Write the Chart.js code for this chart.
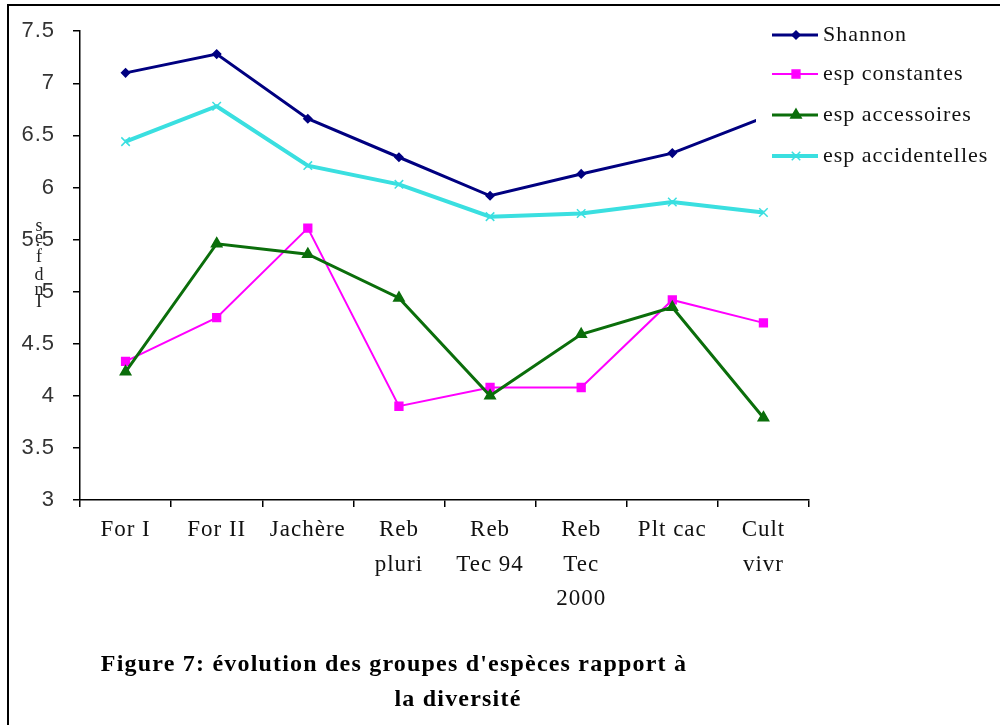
<!DOCTYPE html>
<html>
<head>
<meta charset="utf-8">
<script src="https://cdn.jsdelivr.net/npm/chart.js@4/dist/chart.umd.min.js"></script>
<style>
  html, body { margin: 0; padding: 0; background: #fff; }
  #wrap { width: 1000px; height: 725px; }
</style>
</head>
<body>
<div id="wrap"><canvas id="c" width="1000" height="725"></canvas></div>
<script>
// Sites along the x axis (multi-line labels as arrays)
const categories = [
  'For I', 'For II', 'Jachère', ['Reb', 'pluri'], ['Reb', 'Tec 94'],
  ['Reb', 'Tec', '2000'], 'Plt cac', ['Cult', 'vivr']
];

// Series values
const shannon          = [7.10, 7.28, 6.66, 6.29, 5.92, 6.13, 6.33, 6.67];
const espConstantes    = [4.33, 4.75, 5.61, 3.90, 4.08, 4.08, 4.92, 4.70];
const espAccessoires   = [4.23, 5.46, 5.36, 4.94, 4.00, 4.59, 4.85, 3.79];
const espAccidentelles = [6.44, 6.78, 6.21, 6.03, 5.72, 5.75, 5.86, 5.76];

const seriesNames = ['Shannon', 'esp constantes', 'esp accessoires', 'esp accidentelles'];

// Y axis range
const yMin = 3, yMax = 7.5, yStep = 0.5;

// Stray vertical axis-title glyphs next to the y axis
const yTitleChars = ['s', 'e', 'f', 'd', 'n', 'I'];

// Caption under the chart
const titleLines = ["Figure 7: évolution des groupes d'espèces rapport à", 'la diversité'];

const SERIF = '"Liberation Serif", "Times New Roman", serif';
const SANS = '"Liberation Sans", Arial, sans-serif';
const SPACING = '1px';

const spacing = {
  id: 'spacing',
  beforeLayout(chart) { chart.ctx.letterSpacing = SPACING; },
  beforeDraw(chart) {
    const ctx = chart.ctx;
    ctx.letterSpacing = SPACING;
    // frame
    ctx.save();
    ctx.strokeStyle = '#000';
    ctx.lineWidth = 2;
    ctx.beginPath();
    ctx.moveTo(8, 725);
    ctx.lineTo(8, 5);
    ctx.lineTo(1000, 5);
    ctx.stroke();
    ctx.restore();
  }
};

const extras = {
  id: 'extras',
  afterDraw(chart) {
    const ctx = chart.ctx;
    const ds = chart.data.datasets;

    // legend box over the top-right corner of the plot
    ctx.save();
    ctx.fillStyle = '#fff';
    ctx.fillRect(756, 14, 244, 158);
    const rowY = [35, 74, 115, 156];
    ds.forEach((d, i) => {
      const y = rowY[i];
      ctx.save();
      ctx.strokeStyle = d.borderColor;
      ctx.lineWidth = d.borderWidth;
      ctx.beginPath();
      ctx.moveTo(772, y);
      ctx.lineTo(818, y);
      ctx.stroke();
      ctx.fillStyle = d.pointBackgroundColor;
      ctx.strokeStyle = d.pointBorderColor;
      ctx.lineWidth = d.pointBorderWidth;
      Chart.helpers.drawPoint(ctx, {
        pointStyle: d.pointStyle,
        radius: d.pointRadius,
        borderWidth: d.pointBorderWidth,
        rotation: 0
      }, 796, y);
      ctx.letterSpacing = SPACING;
      ctx.fillStyle = '#111';
      ctx.font = '22px ' + SERIF;
      ctx.textAlign = 'left';
      ctx.textBaseline = 'middle';
      ctx.fillText(seriesNames[i], 823, y);
      ctx.restore();
    });
    ctx.restore();

    // stacked glyphs beside the y axis
    ctx.save();
    ctx.letterSpacing = '0px';
    ctx.fillStyle = '#222';
    ctx.font = '18px ' + SERIF;
    ctx.textAlign = 'center';
    ctx.textBaseline = 'middle';
    const gy = [226, 238, 257, 275, 290, 302];
    yTitleChars.forEach((ch, i) => ctx.fillText(ch, 39, gy[i]));
    ctx.restore();

    // caption
    ctx.save();
    ctx.letterSpacing = '1.2px';
    ctx.fillStyle = '#000';
    ctx.font = 'bold 24px ' + SERIF;
    ctx.textAlign = 'center';
    ctx.textBaseline = 'middle';
    ctx.fillText(titleLines[0], 394, 665);
    ctx.fillText(titleLines[1], 458, 700);
    ctx.restore();
  }
};

function series(label, data, color, width, style, radius, order) {
  return {
    label, data,
    borderColor: color,
    backgroundColor: color,
    borderWidth: width,
    pointStyle: style,
    pointRadius: radius,
    pointHoverRadius: radius,
    pointBackgroundColor: color,
    pointBorderColor: color,
    pointBorderWidth: 1.5,
    tension: 0,
    fill: false,
    order
  };
}

new Chart(document.getElementById('c'), {
  type: 'line',
  data: {
    labels: categories,
    datasets: [
      series(seriesNames[0], shannon, '#000080', 3, 'rectRot', 4, 3),
      series(seriesNames[1], espConstantes, '#FF00FF', 2, 'rect', 5.5, 2),
      series(seriesNames[2], espAccessoires, '#0B6E0B', 3, 'triangle', 6, 1),
      series(seriesNames[3], espAccidentelles, '#3ADFE0', 4, 'crossRot', 6, 0)
    ]
  },
  options: {
    responsive: false,
    animation: false,
    devicePixelRatio: 1,
    layout: { padding: { top: 28, right: 191, left: 0, bottom: 0 } },
    plugins: {
      legend: { display: false },
      tooltip: { enabled: false },
      title: { display: false }
    },
    scales: {
      x: {
        offset: true,
        grid: {
          offset: true,
          drawOnChartArea: false,
          drawTicks: true,
          tickLength: 7,
          color: '#000',
          lineWidth: 1.5
        },
        border: { display: true, color: '#000', width: 1.5 },
        ticks: {
          autoSkip: false,
          maxRotation: 0,
          minRotation: 0,
          padding: 6,
          color: '#111',
          font: { family: SERIF, size: 23, lineHeight: 1.5 }
        },
        afterFit(scale) { scale.height = 225; }
      },
      y: {
        min: yMin,
        max: yMax,
        grid: {
          drawOnChartArea: false,
          drawTicks: true,
          tickLength: 7,
          color: '#000',
          lineWidth: 1.5
        },
        border: { display: true, color: '#000', width: 1.5 },
        ticks: {
          stepSize: yStep,
          padding: 18,
          color: '#333',
          font: { family: SANS, size: 22 },
          callback: v => String(v)
        },
        afterFit(scale) { scale.width = 80; }
      }
    }
  },
  plugins: [spacing, extras]
});
</script>
</body>
</html>
